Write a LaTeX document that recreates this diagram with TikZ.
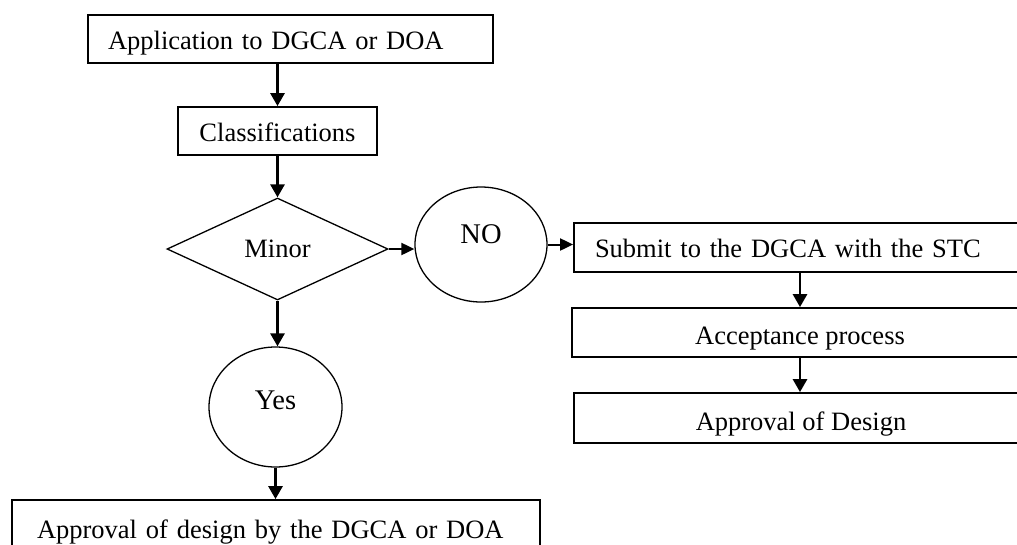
\documentclass[tikz,border=0pt]{standalone}
\usepackage{fontspec}
\setmainfont{Liberation Serif}
\usetikzlibrary{shapes.geometric,arrows.meta}
\begin{document}
\begin{tikzpicture}[x=1pt,y=-1pt,
  txt/.style={font=\fontsize{26.5}{30}\selectfont},
  box/.style={txt, draw, line width=1.8pt, inner ysep=0pt, text height=20pt, text depth=0pt},
  lbox/.style={box, align=left},
  cbox/.style={box, align=center, inner xsep=0pt},
  oval/.style={draw, ellipse, line width=1.3pt, inner sep=0pt, font=\fontsize{28.5}{32}\selectfont},
  decision/.style={txt, draw, diamond, line width=1.3pt, inner sep=0pt},
  varrow/.style={line width=2.8pt, -{Triangle[width=14pt,length=13pt]}},
  harrow/.style={line width=2pt, -{Triangle[width=12pt,length=13pt]}}
]
\useasboundingbox (0,0) rectangle (1017,544);
\clip (0,0) rectangle (1017,544);

\node[lbox, minimum width=405pt, minimum height=48pt, text width=365pt, inner xsep=20pt] (app) at (290.5,39) {Application to DGCA or DOA};
\node[cbox, minimum width=199pt, minimum height=48pt] (cls) at (277.5,131) {Classifications};
\node[decision, minimum width=221pt, minimum height=102pt, aspect=2.17] (minor) at (277.5,249) {Minor};
\node[oval, minimum width=132pt, minimum height=115pt, text height=18pt, text depth=20pt] (no) at (481,244.5) {NO};
\node[oval, minimum width=133pt, minimum height=120pt, text height=18pt, text depth=13pt] (yes) at (275.5,407) {Yes};
\node[lbox, minimum width=528pt, minimum height=64pt, text width=478pt, inner xsep=25pt, text height=12pt] (final) at (276,532) {Approval of design by the DGCA or DOA};
\node[lbox, minimum width=466pt, minimum height=49pt, text width=424pt, inner xsep=21pt] (submit) at (807,247.5) {Submit to the DGCA with the STC};
\node[cbox, minimum width=456pt, minimum height=49pt, text height=24pt] (accept) at (800,332.5) {Acceptance process};
\node[cbox, minimum width=454pt, minimum height=50pt, text height=24pt] (design) at (801,418) {Approval of Design};

\draw[varrow] (app.south -| cls.north) -- (cls.north);
\draw[varrow] (cls.south) -- (minor.north);
\draw[varrow] (minor.south) -- (minor.south |- yes.north);
\draw[varrow] (yes.south) -- (yes.south |- final.north);
\draw[harrow] (minor.east) -- (no.west |- minor.east);
\draw[harrow] (no.east) -- (no.east -| submit.west);
\draw[varrow] (accept.north |- submit.south) -- (accept.north);
\draw[varrow] (accept.south) -- (accept.south |- design.north);
\end{tikzpicture}
\end{document}
